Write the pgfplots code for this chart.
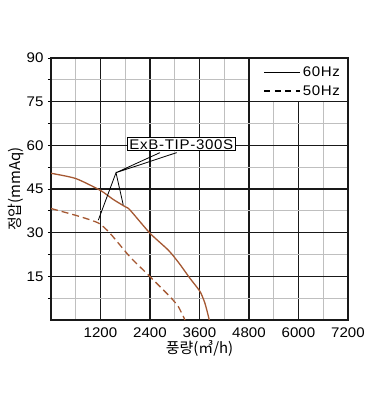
\documentclass[border=0pt]{standalone}
\usepackage{pgfplots}
\pgfplotsset{compat=1.18}
\usepackage{fontspec}
\setmainfont{Liberation Sans}[FakeStretch=1.08]
\newfontfamily\cjk{Noto Sans CJK KR}
\definecolor{curve}{RGB}{165,88,50}
\begin{document}
\begin{tikzpicture}
\useasboundingbox (-51bp,-86bp) rectangle (323bp,320bp);
\begin{axis}[
  at={(0,0)}, anchor=south west, scale only axis,
  width=297bp, height=262bp,
  xmin=0, xmax=7200, ymin=0, ymax=90,
  xtick={1200,2400,3600,4800,6000,7200},
  xticklabels={1200,2400,3600,4800,6000,7200},
  ytick={15,30,45,60,75,90},
  yticklabels={15,30,45,60,75,90},
  minor xtick={600,1800,3000,4200,5400,6600},
  minor ytick={7.5,22.5,37.5,52.5,67.5,82.5},
  grid=both,
  major grid style={black!90, line width=1.1bp},
  minor grid style={black!25, line width=1.1bp},
  axis line style={black!90, line width=1.4bp},
  xtick style={draw=none},
  ytick pos=left, tick align=outside,
  major tick length=3bp, minor tick length=3bp,
  ytick style={black, line width=0.8bp},
  tick label style={font=\fontsize{14}{16}\selectfont},
  xticklabel style={yshift=-1bp},
  yticklabel style={xshift=-1bp},
  xlabel={\cjk 풍량(㎥/h)},
  ylabel={\cjk 정압(mmAq)},
  label style={font=\fontsize{15}{17}\selectfont},
  xlabel style={at={(axis description cs:0.5,-0.107)}, anchor=center},
  ylabel style={at={(axis description cs:-0.118,0.5)}, anchor=center},
  legend image code/.code={\draw[#1] (0bp,0bp) -- (36bp,0bp);},
  legend style={at={(rel axis cs:1,1)}, anchor=north east, xshift=-5bp, yshift=-6bp,
    draw=none, fill=none, font=\fontsize{14}{16}\selectfont\addfontfeatures{LetterSpace=4}, row sep=3bp,
    inner sep=1bp, /tikz/every even column/.append style={column sep=5bp}},
  legend cell align=left,
]
\draw[draw=black!90, fill=white, line width=1.2bp] (axis cs:4800,75) rectangle (axis cs:7200,90);
\addlegendimage{black, line width=1.3bp}
\addlegendentry{60Hz}
\addlegendimage{black, line width=1.3bp, dash pattern=on 6bp off 4.5bp}
\addlegendentry{50Hz}
\addplot[forget plot, curve, line width=1.3bp, smooth, tension=0.4] coordinates {
  (0,50.4) (600,48.6) (1200,44.5) (1510,41.4) (1800,38.9) (1915,37.8)
  (2400,29.8) (2844,24.0) (3100,19.6) (3370,14.3) (3612,9.8) (3733,5.7) (3838,0)
};
\addplot[forget plot, curve, line width=1.3bp, dash pattern=on 7bp off 4bp, smooth, tension=0.4] coordinates {
  (0,38.3) (660,35.7) (1150,33.3) (1430,29.8) (1915,21.7) (2400,14.9)
  (2885,8.0) (3086,4.6) (3248,0)
};
\draw[black, line width=0.8bp] (axis cs:2642,57.5) -- (axis cs:1576,50.6) -- (axis cs:3047,57.5);
\draw[black, line width=0.8bp] (axis cs:1147,34.3) -- (axis cs:1576,50.6) -- (axis cs:1750,39.6);
\node[draw=black, fill=white, line width=0.8bp, inner xsep=2bp, inner ysep=1.5bp,
  font=\fontsize{14}{16}\selectfont\addfontfeatures{LetterSpace=5}]
  at (axis cs:3159,60.35) {ExB-TIP-300S};
\node[font=\fontsize{14}{16}\selectfont] at (axis cs:0,0) [xshift=-8bp, yshift=-10bp] {0};
\end{axis}
\end{tikzpicture}
\end{document}
